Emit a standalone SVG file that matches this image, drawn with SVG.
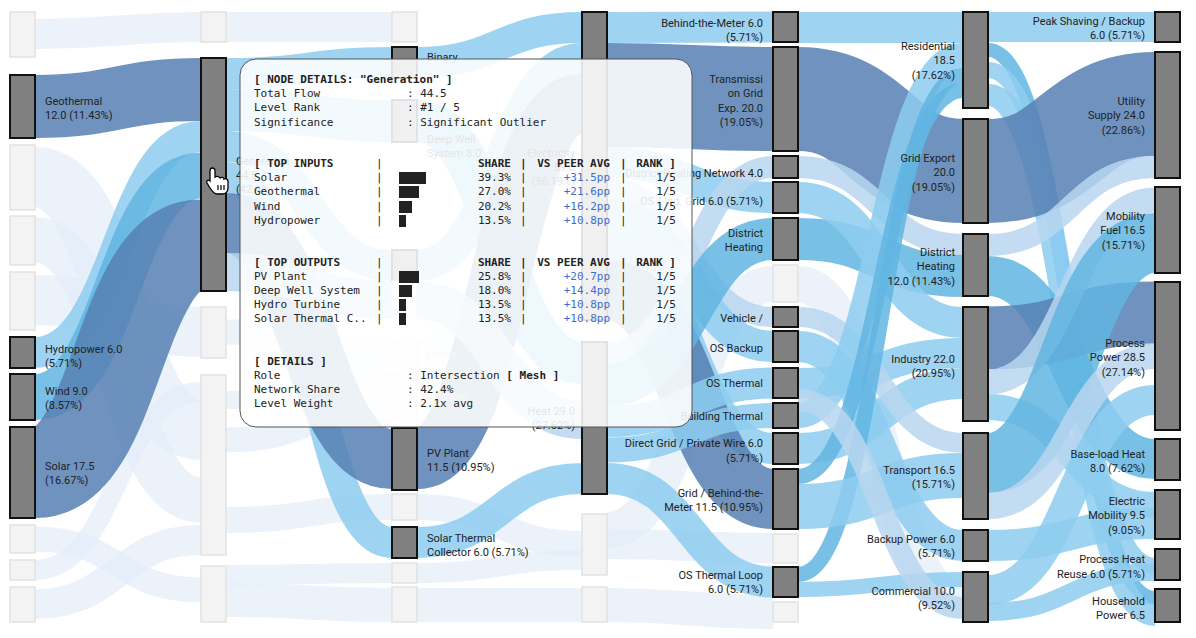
<svg xmlns="http://www.w3.org/2000/svg" width="1196" height="638" viewBox="0 0 1196 638">
<style>
.f{fill:none;stroke-opacity:.85}
.dk{stroke:#5680b3}
.lt{stroke:#8dcdf0}
.md{stroke:#62b5e2}
.pl{stroke:#b9d6ef}
.gh{stroke:#e4eef8;stroke-opacity:.75}
.n{fill:#808080;stroke:#111;stroke-width:2}
.g{fill:#f3f3f3;stroke:#e2e2e2;stroke-width:1.5}
text{font-family:Roboto,"Noto Sans","Liberation Sans",sans-serif;font-size:11px;fill:#222}
.r{text-anchor:end}
.gl{fill:#c8c8c8}
.tt text{font-family:"DejaVu Sans Mono","Liberation Mono",monospace;font-size:11px;fill:#222}
.tt .b{font-weight:bold}
.tt .bl{fill:#3c6fcc}
.tt .e{text-anchor:end}
.bar{fill:#222}
</style>
<rect width="1196" height="638" fill="#fff"/>
<g id="connectors">
<!-- ghost flows -->
<path class="f gh" stroke-width="30" d="M35 34 C118 34 118 27 201 27"/>
<path class="f gh" stroke-width="60" d="M35 177 C118 177 118 430 201 430"/>
<path class="f gh" stroke-width="45" d="M35 240 C118 240 118 500 201 500"/>
<path class="f gh" stroke-width="50" d="M35 300 C118 300 118 332 201 332"/>
<path class="f gh" stroke-width="25" d="M35 539 C118 539 118 590 201 590"/>
<path class="f gh" stroke-width="30" d="M35 604 C118 604 118 540 201 540"/>
<path class="f gh" stroke-width="20" d="M35 570 C118 570 118 392 201 392"/>
<path class="f gh" stroke-width="30" d="M226 27 C309 27 309 27 392 27"/>
<path class="f gh" stroke-width="25" d="M226 332 C309 332 309 354 392 354"/>
<path class="f gh" stroke-width="18" d="M226 400 C309 400 309 381 392 381"/>
<path class="f gh" stroke-width="25" d="M226 440 C309 440 309 407 392 407"/>
<path class="f gh" stroke-width="26" d="M226 520 C309 520 309 507 392 507"/>
<path class="f gh" stroke-width="34" d="M226 600 C309 600 309 605 392 605"/>
<path class="f gh" stroke-width="20" d="M226 575 C309 575 309 573 392 573"/>
<path class="f gh" stroke-width="26" d="M417 354 C499 354 499 150 582 150"/>
<path class="f gh" stroke-width="18" d="M417 381 C499 381 499 175 582 175"/>
<path class="f gh" stroke-width="26" d="M417 507 C499 507 499 544 582 544"/>
<path class="f gh" stroke-width="34" d="M417 605 C499 605 499 605 582 605"/>
<path class="f gh" stroke-width="20" d="M417 573 C499 573 499 560 582 560"/>
<path class="f gh" stroke-width="30" d="M607 544 C690 544 690 548 773 548"/>
<path class="f gh" stroke-width="34" d="M607 605 C690 605 690 612 773 612"/>
<path class="f gh" stroke-width="36" d="M607 530 C690 530 690 284 773 284"/>
<path class="f gh" stroke-width="36" d="M798 284 C880 284 880 600 963 600"/>
<!-- col0 -> col1 -->
<path class="f dk" stroke-width="63" d="M35 106.5 C118 106.5 118 89.5 201 89.5"/>
<path class="f lt" stroke-width="31" d="M35 352.5 C118 352.5 118 136.5 201 136.5"/>
<path class="f md" stroke-width="46" d="M35 397 C118 397 118 175.5 201 175.5"/>
<path class="f dk" stroke-width="91" d="M35 472.5 C118 472.5 118 245 201 245"/>
<!-- col1 -> col2 -->
<path class="f lt" stroke-width="31" d="M226 73.5 C309 73.5 309 62.5 392 62.5"/>
<path class="f lt" stroke-width="42" d="M226 110 C309 110 309 121 392 121"/>
<path class="f lt" stroke-width="31" d="M226 146.5 C309 146.5 309 265.5 392 265.5"/>
<path class="f lt" stroke-width="31" d="M226 177.5 C309 177.5 309 542.5 392 542.5"/>
<path class="f dk" stroke-width="60" d="M226 223 C309 223 309 459 392 459"/>
<path class="f pl" stroke-width="38" d="M226 272 C309 272 309 300 392 300"/>
<!-- col2 -> col3 -->
<path class="f lt" stroke-width="31" d="M417 62.5 C499 62.5 499 27.5 582 27.5"/>
<path class="f md" stroke-width="42" d="M417 121 C499 121 499 363 582 363"/>
<path class="f lt" stroke-width="31" d="M417 265.5 C499 265.5 499 58.5 582 58.5"/>
<path class="f dk" stroke-width="60" d="M417 459 C499 459 499 104 582 104"/>
<path class="f lt" stroke-width="31" d="M417 542.5 C499 542.5 499 478.5 582 478.5"/>
<path class="f pl" stroke-width="38" d="M417 300 C499 300 499 420 582 420"/>
<!-- col3 -> col4 -->
<path class="f lt" stroke-width="31" d="M607 27.5 C690 27.5 690 27 773 27"/>
<path class="f dk" stroke-width="104" d="M607 95 C690 95 690 99 773 99"/>
<path class="f lt" stroke-width="31" d="M607 162.5 C690 162.5 690 197.5 773 197.5"/>
<path class="f pl" stroke-width="20" d="M607 188 C690 188 690 317 773 317"/>
<path class="f lt" stroke-width="31" d="M607 213.5 C690 213.5 690 346.5 773 346.5"/>
<path class="f lt" stroke-width="31" d="M607 244.5 C690 244.5 690 448.5 773 448.5"/>
<path class="f dk" stroke-width="60" d="M607 290 C690 290 690 499 773 499"/>
<path class="f pl" stroke-width="22" d="M607 353 C690 353 690 167 773 167"/>
<path class="f md" stroke-width="42" d="M607 385 C690 385 690 239 773 239"/>
<path class="f lt" stroke-width="31" d="M607 421.5 C690 421.5 690 383 773 383"/>
<path class="f lt" stroke-width="25" d="M607 450 C690 450 690 415.5 773 415.5"/>
<path class="f lt" stroke-width="31" d="M607 478.5 C690 478.5 690 582 773 582"/>
<!-- col4 -> col5 -->
<path class="f lt" stroke-width="31" d="M798 27.5 C880 27.5 880 27.5 963 27.5"/>
<path class="f dk" stroke-width="104" d="M798 99 C880 99 880 171 963 171"/>
<path class="f pl" stroke-width="22" d="M798 167 C880 167 880 245 963 245"/>
<path class="f md" stroke-width="42" d="M798 239 C880 239 880 276 963 276"/>
<path class="f lt" stroke-width="31" d="M798 197.5 C880 197.5 880 322.5 963 322.5"/>
<path class="f lt" stroke-width="30" d="M798 383 C880 383 880 353 963 353"/>
<path class="f lt" stroke-width="31" d="M798 448.5 C880 448.5 880 383.5 963 383.5"/>
<path class="f pl" stroke-width="20" d="M798 317 C880 317 880 443 963 443"/>
<path class="f lt" stroke-width="31" d="M798 346.5 C880 346.5 880 545.5 963 545.5"/>
<path class="f lt" stroke-width="25" d="M798 415.5 C880 415.5 880 55.5 963 55.5"/>
<path class="f md" stroke-width="15" d="M798 574.5 C880 574.5 880 75.5 963 75.5"/>
<path class="f lt" stroke-width="15" d="M798 589.5 C880 589.5 880 579.5 963 579.5"/>
<path class="f md" stroke-width="15" d="M798 476.5 C880 476.5 880 90.5 963 90.5"/>
<path class="f lt" stroke-width="45" d="M798 506.5 C880 506.5 880 475.5 963 475.5"/>
<path class="f pl" stroke-width="22" d="M798 400 C880 400 880 608 963 608"/>
<!-- col5 -> col6 -->
<path class="f lt" stroke-width="30" d="M988 27 C1071 27 1071 27 1155 27"/>
<path class="f md" stroke-width="14" d="M988 50 C1071 50 1071 598 1155 598"/>
<path class="f lt" stroke-width="16" d="M988 70 C1071 70 1071 566 1155 566"/>
<path class="f lt" stroke-width="22" d="M988 95 C1071 95 1071 615 1155 615"/>
<path class="f dk" stroke-width="104" d="M988 171 C1071 171 1071 104 1155 104"/>
<path class="f pl" stroke-width="22" d="M988 245 C1071 245 1071 167 1155 167"/>
<path class="f md" stroke-width="40" d="M988 276 C1071 276 1071 459 1155 459"/>
<path class="f dk" stroke-width="63" d="M988 338 C1071 338 1071 313 1155 313"/>
<path class="f pl" stroke-width="25" d="M988 382 C1071 382 1071 200 1155 200"/>
<path class="f lt" stroke-width="26" d="M988 407 C1071 407 1071 505 1155 505"/>
<path class="f md" stroke-width="60" d="M988 463 C1071 463 1071 243 1155 243"/>
<path class="f pl" stroke-width="26" d="M988 506 C1071 506 1071 356 1155 356"/>
<path class="f lt" stroke-width="31" d="M988 545.5 C1071 545.5 1071 523.5 1155 523.5"/>
<path class="f lt" stroke-width="30" d="M988 590 C1071 590 1071 400 1155 400"/>
<path class="f lt" stroke-width="18" d="M988 612 C1071 612 1071 572 1155 572"/>
</g>
<g id="nodes">
<g id="c0"><rect class="g" x="10" y="12" width="25" height="45"/><rect class="n" x="10" y="75" width="25" height="63"/><rect class="g" x="10" y="145" width="25" height="65"/><rect class="g" x="10" y="216" width="25" height="49"/><rect class="g" x="10" y="272" width="25" height="58"/><rect class="n" x="10" y="337" width="25" height="31"/><rect class="n" x="10" y="374" width="25" height="46"/><rect class="n" x="10" y="427" width="25" height="91"/><rect class="g" x="10" y="525" width="25" height="28"/><rect class="g" x="10" y="560" width="25" height="20"/><rect class="g" x="10" y="587" width="25" height="35"/></g>
<g id="c1"><rect class="g" x="201" y="12" width="25" height="30"/><rect class="n" x="201" y="58" width="25" height="233"/><rect class="g" x="201" y="307" width="25" height="51"/><rect class="g" x="201" y="375" width="25" height="180"/><rect class="g" x="201" y="566" width="25" height="56"/></g>
<g id="c2"><rect class="g" x="392" y="12" width="25" height="30"/><rect class="n" x="392" y="47" width="25" height="31"/><rect class="n" x="392" y="100" width="25" height="42"/><rect class="n" x="392" y="250" width="25" height="31"/><rect class="pl" fill="#f3f3f3" x="392" y="281" width="25" height="38"/><rect class="g" x="392" y="340" width="25" height="27"/><rect class="g" x="392" y="372" width="25" height="18"/><rect class="g" x="392" y="395" width="25" height="25"/><rect class="n" x="392" y="428" width="25" height="62"/><rect class="g" x="392" y="494" width="25" height="26"/><rect class="n" x="392" y="527" width="25" height="31"/><rect class="g" x="392" y="563" width="25" height="20"/><rect class="g" x="392" y="587" width="25" height="35"/></g>
<g id="c3"><rect class="n" x="582" y="12" width="25" height="308"/><rect class="n" x="582" y="342" width="25" height="152"/><rect class="g" x="582" y="514" width="25" height="61"/><rect class="g" x="582" y="587" width="25" height="35"/></g>
<g id="c4"><rect class="n" x="773" y="12" width="25" height="30"/><rect class="n" x="773" y="47" width="25" height="104"/><rect class="n" x="773" y="156" width="25" height="22"/><rect class="n" x="773" y="182" width="25" height="31"/><rect class="n" x="773" y="218" width="25" height="42"/><rect class="g" x="773" y="265" width="25" height="37"/><rect class="n" x="773" y="307" width="25" height="20"/><rect class="n" x="773" y="331" width="25" height="31"/><rect class="n" x="773" y="368" width="25" height="30"/><rect class="n" x="773" y="403" width="25" height="25"/><rect class="n" x="773" y="433" width="25" height="31"/><rect class="n" x="773" y="469" width="25" height="60"/><rect class="g" x="773" y="534" width="25" height="29"/><rect class="n" x="773" y="567" width="25" height="30"/><rect class="g" x="773" y="602" width="25" height="20"/></g>
<g id="c5"><rect class="n" x="963" y="12" width="25" height="96"/><rect class="n" x="963" y="119" width="25" height="104"/><rect class="n" x="963" y="234" width="25" height="62"/><rect class="n" x="963" y="307" width="25" height="114"/><rect class="n" x="963" y="433" width="25" height="86"/><rect class="n" x="963" y="530" width="25" height="31"/><rect class="n" x="963" y="572" width="25" height="50"/></g>
<g id="c6"><rect class="n" x="1155" y="12" width="25" height="30"/><rect class="n" x="1155" y="52" width="25" height="126"/><rect class="n" x="1155" y="187" width="25" height="86"/><rect class="n" x="1155" y="282" width="25" height="148"/><rect class="n" x="1155" y="439" width="25" height="41"/><rect class="n" x="1155" y="490" width="25" height="49"/><rect class="n" x="1155" y="549" width="25" height="31"/><rect class="n" x="1155" y="589" width="25" height="33"/></g>
</g>
<g id="labels">
<text x="45" y="105">Geothermal</text><text x="45" y="119">12.0 (11.43%)</text>
<text x="45" y="353">Hydropower 6.0</text><text x="45" y="367">(5.71%)</text>
<text x="45" y="395">Wind 9.0</text><text x="45" y="409">(8.57%)</text>
<text x="45" y="470">Solar 17.5</text><text x="45" y="484">(16.67%)</text>
<text x="236" y="165">Generation</text><text x="236" y="179">44.5</text><text x="236" y="193">(42.4%)</text>
<text x="427" y="61">Binary</text>
<text x="427" y="143">Deep Well</text><text x="427" y="157">System 8.0</text>
<text x="427" y="358" class="gl">Hydro</text><text x="427" y="378" class="gl">Offshore</text><text x="427" y="400" class="gl">Onshore</text>
<text x="427" y="457">PV Plant</text><text x="427" y="471">11.5 (10.95%)</text>
<text x="427" y="542">Solar Thermal</text><text x="427" y="556">Collector 6.0 (5.71%)</text>
<text class="r" x="575" y="157">Electricity</text><text class="r" x="575" y="171">59.0</text><text class="r" x="575" y="185">(56.19%)</text>
<text class="r" x="575" y="415">Heat 29.0</text><text class="r" x="575" y="429">(27.62%)</text>
<text class="r" x="763" y="27">Behind-the-Meter 6.0</text><text class="r" x="763" y="41">(5.71%)</text>
<text class="r" x="763" y="83">Transmissi</text><text class="r" x="763" y="97">on Grid</text><text class="r" x="763" y="112">Exp. 20.0</text><text class="r" x="763" y="126">(19.05%)</text>
<text class="r" x="763" y="177">District Heating Network 4.0</text>
<text class="r" x="763" y="205">OS / Ind. Grid 6.0 (5.71%)</text>
<text class="r" x="763" y="237">District</text><text class="r" x="763" y="251">Heating</text>
<text class="r" x="763" y="322">Vehicle /</text>
<text class="r" x="763" y="352">OS Backup</text>
<text class="r" x="763" y="387">OS Thermal</text>
<text class="r" x="763" y="420">Building Thermal</text>
<text class="r" x="763" y="447">Direct Grid / Private Wire 6.0</text><text class="r" x="763" y="462">(5.71%)</text>
<text class="r" x="763" y="497">Grid / Behind-the-</text><text class="r" x="763" y="511">Meter 11.5 (10.95%)</text>
<text class="r" x="763" y="579">OS Thermal Loop</text><text class="r" x="763" y="593">6.0 (5.71%)</text>
<text class="r" x="955" y="50">Residential</text><text class="r" x="955" y="64">18.5</text><text class="r" x="955" y="79">(17.62%)</text>
<text class="r" x="955" y="162">Grid Export</text><text class="r" x="955" y="176">20.0</text><text class="r" x="955" y="191">(19.05%)</text>
<text class="r" x="955" y="256">District</text><text class="r" x="955" y="270">Heating</text><text class="r" x="955" y="285">12.0 (11.43%)</text>
<text class="r" x="955" y="363">Industry 22.0</text><text class="r" x="955" y="377">(20.95%)</text>
<text class="r" x="955" y="474">Transport 16.5</text><text class="r" x="955" y="488">(15.71%)</text>
<text class="r" x="955" y="543">Backup Power 6.0</text><text class="r" x="955" y="557">(5.71%)</text>
<text class="r" x="955" y="595">Commercial 10.0</text><text class="r" x="955" y="609">(9.52%)</text>
<text class="r" x="1145" y="25">Peak Shaving / Backup</text><text class="r" x="1145" y="39">6.0 (5.71%)</text>
<text class="r" x="1145" y="105">Utility</text><text class="r" x="1145" y="119">Supply 24.0</text><text class="r" x="1145" y="134">(22.86%)</text>
<text class="r" x="1145" y="220">Mobility</text><text class="r" x="1145" y="234">Fuel 16.5</text><text class="r" x="1145" y="249">(15.71%)</text>
<text class="r" x="1145" y="347">Process</text><text class="r" x="1145" y="361">Power 28.5</text><text class="r" x="1145" y="376">(27.14%)</text>
<text class="r" x="1145" y="458">Base-load Heat</text><text class="r" x="1145" y="472">8.0 (7.62%)</text>
<text class="r" x="1145" y="505">Electric</text><text class="r" x="1145" y="519">Mobility 9.5</text><text class="r" x="1145" y="534">(9.05%)</text>
<text class="r" x="1145" y="563">Process Heat</text><text class="r" x="1145" y="578">Reuse 6.0 (5.71%)</text>
<text class="r" x="1145" y="605">Household</text><text class="r" x="1145" y="619">Power 6.5</text>
</g>
<g id="tooltip" class="tt">
<rect x="240" y="59" width="452" height="368" rx="16" fill="#fff" fill-opacity="0.88" stroke="#555" stroke-width="1"/>
<text x="254" y="83" class="b">[ NODE DETAILS: "Generation" ]</text>
<text x="254" y="97">Total Flow</text><text x="407" y="97">: 44.5</text>
<text x="254" y="111">Level Rank</text><text x="407" y="111">: #1 / 5</text>
<text x="254" y="126">Significance</text><text x="407" y="126">: Significant Outlier</text>
<text x="254" y="167" class="b">[ TOP INPUTS</text><text x="376" y="167">|</text>
<text x="511" y="167" class="e b">SHARE</text><text x="520" y="167" class="b">|</text><text x="610" y="167" class="e b">VS PEER AVG</text><text x="620" y="167" class="b">|</text><text x="676" y="167" class="e b">RANK ]</text>
<text x="254" y="181">Solar</text><text x="376" y="181">|</text><rect class="bar" x="399" y="172" width="27" height="12"/><text x="511" y="181" class="e">39.3%</text><text x="520" y="181">|</text><text x="610" y="181" class="e bl">+31.5pp</text><text x="620" y="181">|</text><text x="676" y="181" class="e">1/5</text>
<text x="254" y="195">Geothermal</text><text x="376" y="195">|</text><rect class="bar" x="399" y="186" width="20" height="12"/><text x="511" y="195" class="e">27.0%</text><text x="520" y="195">|</text><text x="610" y="195" class="e bl">+21.6pp</text><text x="620" y="195">|</text><text x="676" y="195" class="e">1/5</text>
<text x="254" y="210">Wind</text><text x="376" y="210">|</text><rect class="bar" x="399" y="201" width="13" height="12"/><text x="511" y="210" class="e">20.2%</text><text x="520" y="210">|</text><text x="610" y="210" class="e bl">+16.2pp</text><text x="620" y="210">|</text><text x="676" y="210" class="e">1/5</text>
<text x="254" y="224">Hydropower</text><text x="376" y="224">|</text><rect class="bar" x="399" y="215" width="7" height="12"/><text x="511" y="224" class="e">13.5%</text><text x="520" y="224">|</text><text x="610" y="224" class="e bl">+10.8pp</text><text x="620" y="224">|</text><text x="676" y="224" class="e">1/5</text>
<text x="254" y="266" class="b">[ TOP OUTPUTS</text><text x="376" y="266">|</text>
<text x="511" y="266" class="e b">SHARE</text><text x="520" y="266" class="b">|</text><text x="610" y="266" class="e b">VS PEER AVG</text><text x="620" y="266" class="b">|</text><text x="676" y="266" class="e b">RANK ]</text>
<text x="254" y="280">PV Plant</text><text x="376" y="280">|</text><rect class="bar" x="399" y="271" width="20" height="12"/><text x="511" y="280" class="e">25.8%</text><text x="520" y="280">|</text><text x="610" y="280" class="e bl">+20.7pp</text><text x="620" y="280">|</text><text x="676" y="280" class="e">1/5</text>
<text x="254" y="294">Deep Well System</text><text x="376" y="294">|</text><rect class="bar" x="399" y="285" width="13" height="12"/><text x="511" y="294" class="e">18.0%</text><text x="520" y="294">|</text><text x="610" y="294" class="e bl">+14.4pp</text><text x="620" y="294">|</text><text x="676" y="294" class="e">1/5</text>
<text x="254" y="308">Hydro Turbine</text><text x="376" y="308">|</text><rect class="bar" x="399" y="299" width="7" height="12"/><text x="511" y="308" class="e">13.5%</text><text x="520" y="308">|</text><text x="610" y="308" class="e bl">+10.8pp</text><text x="620" y="308">|</text><text x="676" y="308" class="e">1/5</text>
<text x="254" y="322">Solar Thermal C..</text><text x="376" y="322">|</text><rect class="bar" x="399" y="313" width="7" height="12"/><text x="511" y="322" class="e">13.5%</text><text x="520" y="322">|</text><text x="610" y="322" class="e bl">+10.8pp</text><text x="620" y="322">|</text><text x="676" y="322" class="e">1/5</text>
<text x="254" y="365" class="b">[ DETAILS ]</text>
<text x="254" y="379">Role</text><text x="407" y="379">: Intersection <tspan font-weight="bold">[ Mesh ]</tspan></text>
<text x="254" y="393">Network Share</text><text x="407" y="393">: 42.4%</text>
<text x="254" y="407">Level Weight</text><text x="407" y="407">: 2.1x avg</text>
</g>
<g id="cursor" transform="translate(207,168)">
<path d="M5 0 C7 0 8 1 8 3 L8 9 C9 8 12 8 13 10 C14 9 17 9 17 11 C18 10 21 11 21 13 L21 20 C21 24 18 26 15 26 L10 26 C7 26 5 23 3 20 L0 15 C-1 13 1 11 3 13 L3 3 C3 1 4 0 5 0 Z" fill="#fff" stroke="#000" stroke-width="1.3"/>
<path d="M11 17 V22 M14 17 V22 M17 17 V22" stroke="#000" stroke-width="1.2"/>
</g>
</svg>
